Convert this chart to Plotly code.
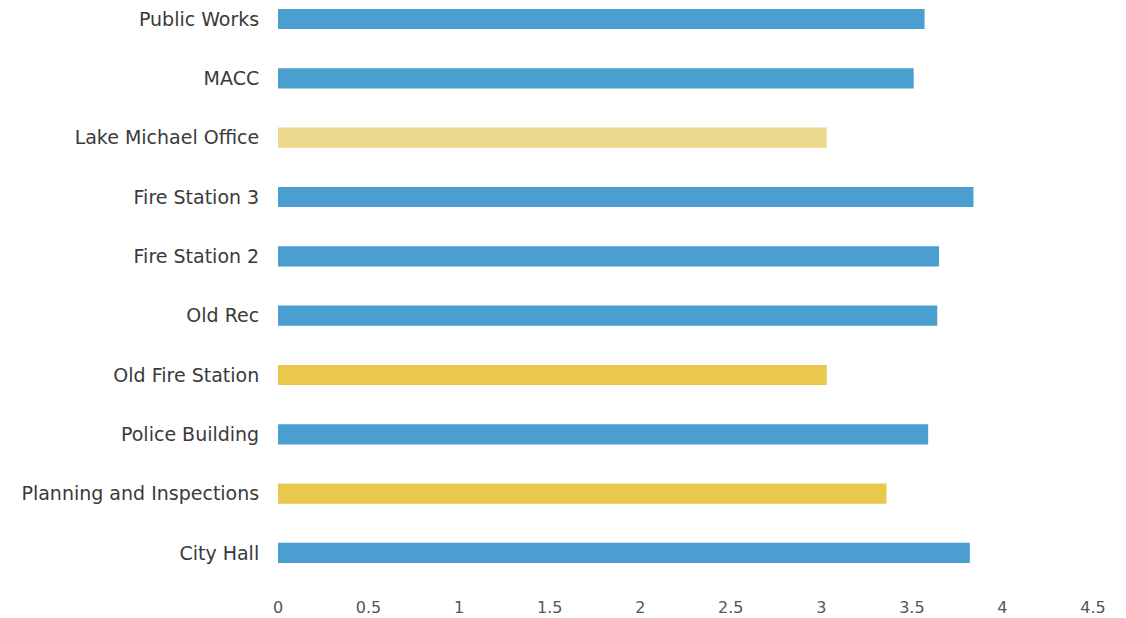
import plotly.graph_objects as go

categories = ["City Hall", "Planning and Inspections", "Police Building", "Old Fire Station",
              "Old Rec", "Fire Station 2", "Fire Station 3", "Lake Michael Office", "MACC", "Public Works"]
values = [3.82, 3.36, 3.59, 3.03, 3.64, 3.65, 3.84, 3.03, 3.51, 3.57]
bar_colors = ["#4a9fd0", "#e9c84c", "#4a9fd0", "#e9c84c", "#4a9fd0",
              "#4a9fd0", "#4a9fd0", "#ecd98e", "#4a9fd0", "#4a9fd0"]
x_ticks = [0, 0.5, 1, 1.5, 2, 2.5, 3, 3.5, 4, 4.5]

fig = go.Figure(go.Bar(
    x=values, y=categories, orientation="h",
    marker=dict(color=bar_colors, line=dict(width=0)),
    width=0.34,
))

fig.update_layout(
    width=1118, height=610,
    margin=dict(l=270, r=33, t=0, b=33),
    paper_bgcolor="white", plot_bgcolor="white",
    font=dict(family="DejaVu Sans", size=19, color="#3a3a3a"),
    showlegend=False,
    xaxis=dict(range=[0, 4.5], tickvals=x_ticks, ticktext=[str(v) for v in x_ticks],
               showgrid=False, zeroline=False, showline=False,
               ticks="outside", ticklen=8, tickcolor="rgba(0,0,0,0)",
               tickfont=dict(size=16, color="#555555")),
    yaxis=dict(range=[-0.540, 9.185], showgrid=False, zeroline=False, showline=False,
               ticks="outside", ticklen=14, tickcolor="rgba(0,0,0,0)",
               tickfont=dict(size=19, color="#3a3a3a")),
)

fig.write_html("out.html")
